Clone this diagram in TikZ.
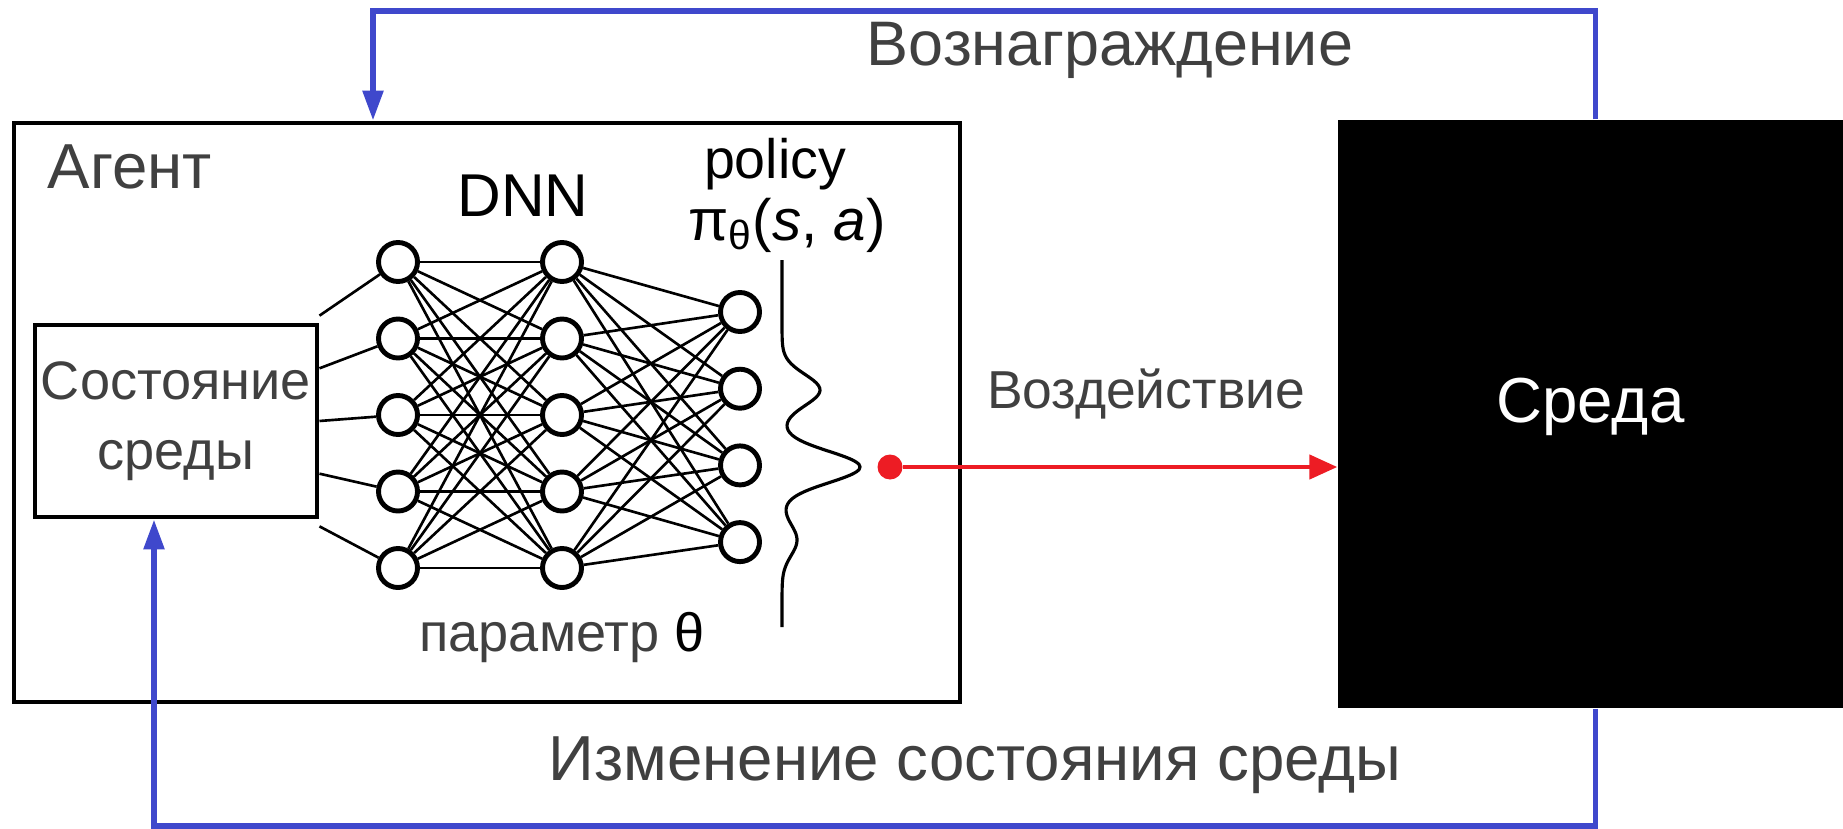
\documentclass[tikz,border=0pt]{standalone}
\usepackage{fontspec}
\setmainfont{Liberation Sans}
\usetikzlibrary{arrows.meta,calc}
\definecolor{LoopClr}{RGB}{63,72,204}
\definecolor{ActClr}{RGB}{237,28,36}
\definecolor{TxtClr}{RGB}{64,64,64}

\tikzset{
  neuron/.style={circle,draw,line width=1.4pt,fill=white,minimum size=3.9mm,inner sep=0pt},
  syn/.style={line width=0.75pt},
  loopline/.style={draw=LoopClr,line width=1.6pt,-{Triangle[length=3mm,width=2mm]}},
  biglbl/.style={text=TxtClr,font=\fontsize{18.1}{21}\selectfont,inner sep=0pt},
  midlbl/.style={font=\fontsize{15.8}{18}\selectfont,inner sep=0pt},
  box/.style={draw,line width=1.4pt,inner sep=0pt}
}

\begin{document}
\begin{tikzpicture}
\useasboundingbox (0,0) rectangle (18.43,8.28);

\node[box,minimum width=9.46cm,minimum height=5.79cm] (agent) at (4.87,4.155) {};
\node[fill=black,minimum width=5.05cm,minimum height=5.88cm,inner sep=0pt] (env) at (15.905,4.14) {};
\node[inner sep=0pt,text=white,font=\fontsize{18.1}{20}\selectfont]
  (envlbl) at ([yshift=0.07cm]env.center) {Среда};
\node[box,minimum width=2.82cm,minimum height=1.92cm,align=center,text=TxtClr,
  font=\fontsize{15.4}{19.9}\selectfont] (state) at (1.76,4.07) {Состояние\\среды};

\node[biglbl,anchor=base west] (agentlbl) at (0.47,6.40) {Агент};
\node[midlbl,anchor=base,font=\fontsize{17.2}{20}\selectfont] (dnn) at (5.23,6.11) {DNN};
\node[midlbl,anchor=base] (pol) at (7.75,6.49) {policy};
\node[midlbl,anchor=base,font=\fontsize{16.6}{19}\selectfont]
  (pi) at (7.87,5.88) {π\textsubscript{θ}(\textit{s}, \textit{a})};
\node[anchor=base,inner sep=0pt,text=TxtClr,font=\fontsize{15.4}{18}\selectfont]
  (param) at (5.62,1.77) {параметр {\color{black}θ}};

\foreach \i in {1,...,5}{
  \node[neuron] (a\i) at (3.98,{5.66-0.765*(\i-1)}) {};
  \node[neuron] (b\i) at (5.62,{5.66-0.765*(\i-1)}) {};
}
\foreach \i in {1,...,4}
  \node[neuron] (c\i) at (7.40,{5.16-0.767*(\i-1)}) {};

\foreach \i in {1,...,5}{
  \pgfmathsetmacro\t{-0.035+1.07*(\i-1)/4}
  \draw[syn] ($(state.north east)!\t!(state.south east)$) -- (a\i);
  \foreach \j in {1,...,5} \draw[syn] (a\i) -- (b\j);
  \foreach \j in {1,...,4} \draw[syn] (b\i) -- (c\j);
}

\draw[line width=0.9pt] plot[smooth,domain=2.01:5.68,samples=150,variable=\y]
  ({7.82+0.38*exp(-min(((\y-4.38)/0.22)^2,9))+0.78*exp(-min(((\y-3.61)/0.22)^2,9))
    +0.15*exp(-min(((\y-2.88)/0.22)^2,9))},\y);

\node[circle,fill=ActClr,minimum size=2.5mm,inner sep=0pt] (act) at (8.90,3.61) {};
\draw[ActClr,line width=1.3pt,-{Triangle[length=2.8mm,width=2.4mm]}] (act) -- (act -| env.west);
\node[anchor=base,inner sep=0pt,text=TxtClr,font=\fontsize{15.2}{18}\selectfont]
  (actlbl) at (11.46,4.20) {Воздействие};

\draw[loopline] ([xshift=0.05cm]env.north) -- ++(0,1.08) -| ([xshift=-1.14cm]agent.north);
\draw[loopline] ([xshift=0.05cm]env.south) -- ++(0,-1.17) -| ([xshift=-0.22cm]state.south);
\node[biglbl,anchor=base,font=\fontsize{17.9}{21}\selectfont] (rwdlbl) at (11.10,7.62) {Вознаграждение};
\node[biglbl,anchor=base] (obslbl) at (9.75,0.48) {Изменение состояния среды};

\end{tikzpicture}
\end{document}
